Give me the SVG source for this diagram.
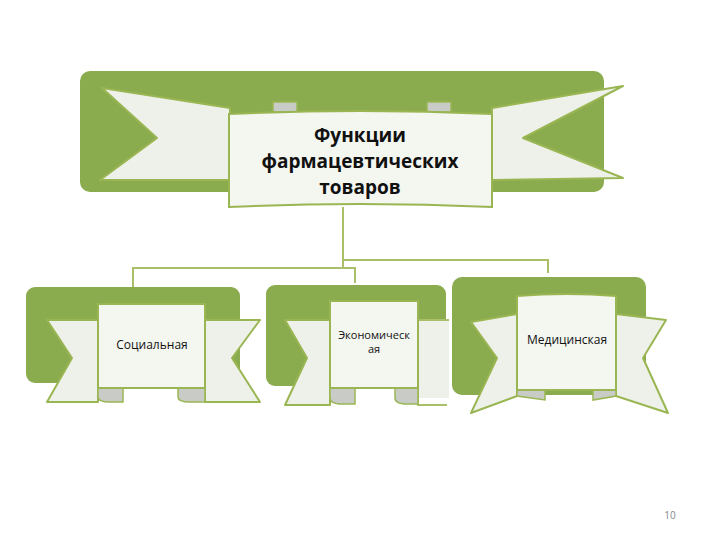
<svg xmlns="http://www.w3.org/2000/svg" width="720" height="540" viewBox="0 0 720 540">
<style>
.bg{fill:#8bab4f}
.w{fill:#eef1e9;stroke:#9ab653;stroke-width:2;stroke-linejoin:round}
.p{fill:#f4f6f0;stroke:#9ab653;stroke-width:2}
.g{fill:#c9ccc6;stroke:#9ab653;stroke-width:1.5}
.c{fill:none;stroke:#a9bf6a;stroke-width:2}
.t{font-family:"Open Sans","DejaVu Sans",sans-serif;fill:#111;text-anchor:middle}
</style>
<rect width="720" height="540" fill="#fff"/>
<g id="connectors">
<path class="c" d="M343 207V268M133 287V268H355V283M343 260H548V273"/>
</g>
<g id="top">
<rect class="bg" x="80" y="71" width="524" height="121" rx="10"/>
<polygon class="w" points="102,88 230,108 230,180 100,180 157,138"/>
<polygon class="w" points="623,86 492,108 492,180 623,178 523,138"/>
<polygon class="g" points="273,112 273,102 297,102 297,112"/>
<polygon class="g" points="427,112 427,102 451,102 451,112"/>
<path class="p" d="M229 114Q360 108 492 114V207Q360 201 229 207Z"/>
<text class="t" x="360" y="142" font-size="19" font-weight="bold">Функции</text>
<text class="t" x="360" y="168" font-size="19" font-weight="bold">фармацевтических</text>
<text class="t" x="360" y="194" font-size="19" font-weight="bold">товаров</text>
</g>
<g id="n1">
<rect class="bg" x="26" y="287" width="214" height="96" rx="9"/>
<polygon class="w" points="47,320 98,320 98,402 47,402 72,358"/>
<polygon class="w" points="260,320 205,320 205,402 260,402 232,358"/>
<path class="g" d="M98 388V397Q98 402 110 402H123V388Z"/>
<path class="g" d="M178 388V397Q178 402 190 402H205V388Z"/>
<path class="p" d="M98 304H205V388H98Z"/>
<text class="t" x="152" y="349" font-size="12">Социальная</text>
</g>
<g id="n2">
<rect class="bg" x="266" y="285" width="180" height="101" rx="9"/>
<polygon class="w" points="285,320 330,320 330,405 285,405 307,358"/>
<polygon points="418,320 449,320 449,398 418,398" fill="#eef1e9"/>
<path class="c" d="M449 320H418V405H447"/>
<path class="g" d="M330 388V398Q330 404 342 404H355V388Z"/>
<path class="g" d="M395 388V398Q395 404 407 404H418V388Z"/>
<path class="p" d="M330 301H418V388H330Z"/>
<text class="t" x="374" y="339" font-size="11">Экономическ</text>
<text class="t" x="374" y="353" font-size="11">ая</text>
</g>
<g id="n3">
<rect class="bg" x="452" y="277" width="194" height="118" rx="10"/>
<polygon class="w" points="471,322 517,314 517,396 471,413 497,358"/>
<polygon class="w" points="666,320 616,314 616,396 668,413 643,358"/>
<polygon class="g" points="517,388 545,388 545,400 517,396"/>
<polygon class="g" points="593,388 616,388 616,396 593,400"/>
<path class="p" d="M517 296Q567 292 616 296V390H517Z"/>
<text class="t" x="567" y="344" font-size="12">Медицинская</text>
</g>
<text x="670" y="519" font-family="'Open Sans',sans-serif" font-size="10" fill="#888" text-anchor="middle">10</text>
</svg>
